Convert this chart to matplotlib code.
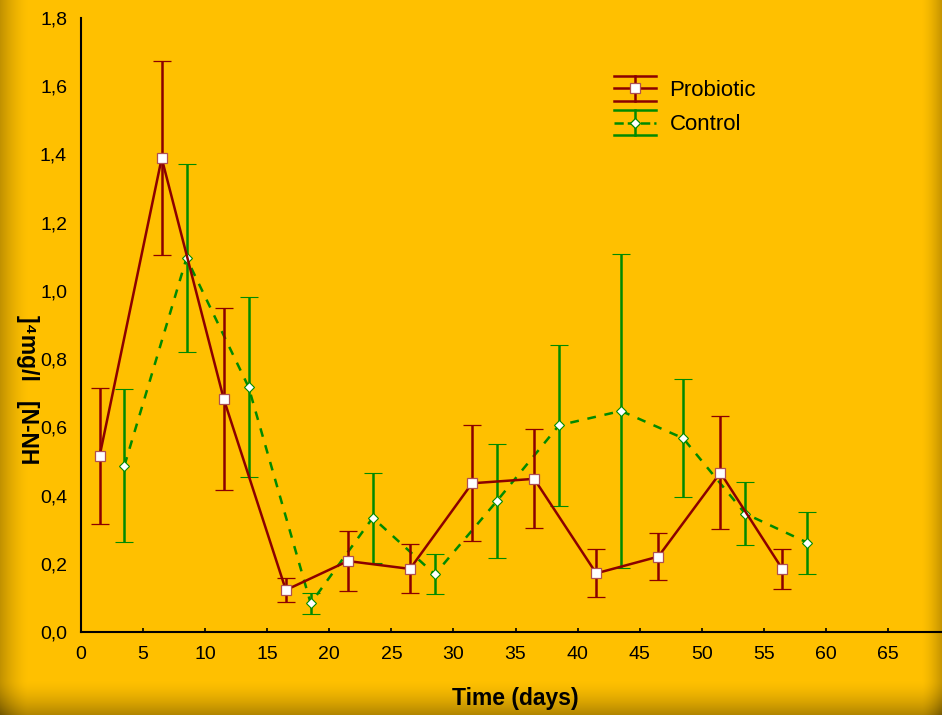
import numpy as np
import matplotlib
matplotlib.use("Agg")
import matplotlib.pyplot as plt
from matplotlib.lines import Line2D
from matplotlib.legend_handler import HandlerBase

# data
probiotic_days = [1.5, 6.5, 11.5, 16.5, 21.5, 26.5, 31.5, 36.5, 41.5, 46.5, 51.5, 56.5]
probiotic_mean = [0.516, 1.389, 0.683, 0.123, 0.208, 0.185, 0.436, 0.449, 0.172, 0.221, 0.467, 0.184]
probiotic_err = [0.200, 0.285, 0.267, 0.036, 0.089, 0.072, 0.170, 0.145, 0.070, 0.070, 0.165, 0.058]

control_days = [3.5, 8.5, 13.5, 18.5, 23.5, 28.5, 33.5, 38.5, 43.5, 48.5, 53.5, 58.5]
control_mean = [0.488, 1.096, 0.718, 0.084, 0.335, 0.169, 0.384, 0.606, 0.648, 0.568, 0.347, 0.262]
control_err = [0.225, 0.275, 0.265, 0.031, 0.132, 0.059, 0.166, 0.236, 0.460, 0.173, 0.092, 0.091]

x_ticks = [0, 5, 10, 15, 20, 25, 30, 35, 40, 45, 50, 55, 60, 65]
y_ticks = [0.0, 0.2, 0.4, 0.6, 0.8, 1.0, 1.2, 1.4, 1.6, 1.8]
y_tick_labels = ["0,0", "0,2", "0,4", "0,6", "0,8", "1,0", "1,2", "1,4", "1,6", "1,8"]

RED = "#8b0000"
GREEN = "#008a00"
GOLD = np.array([255, 192, 0]) / 255.0
LW = 1.8

plt.rcParams['font.family'] = ['Liberation Sans', 'DejaVu Sans']

W, H = 942, 715
fig = plt.figure(figsize=(W / 100, H / 100), dpi=100)
fig.patch.set_facecolor(GOLD)

# darker vignette along left, right and bottom edges
xx, yy = np.meshgrid(np.arange(W), np.arange(H))
shade = (1
         - 0.24 * np.clip(1 - xx / 28.0, 0, 1) ** 1.5
         - 0.22 * np.clip(1 - (W - 1 - xx) / 20.0, 0, 1) ** 1.5
         - 0.30 * np.clip(1 - (H - 1 - yy) / 34.0, 0, 1) ** 1.5)
bg_img = GOLD[None, None, :] * shade[:, :, None]
bg = fig.add_axes([0, 0, 1, 1], zorder=-10)
bg.imshow(bg_img, aspect="auto", interpolation="bilinear")
bg.axis("off")

ax = fig.add_axes([81 / W, 1 - 632 / H, (W - 81) / W, (632 - 18) / H])
ax.set_facecolor("none")

ax.errorbar(control_days, control_mean, yerr=control_err, color=GREEN, lw=LW,
            ls=(0, (3.5, 3.5)), elinewidth=LW, capsize=6.5, capthick=LW,
            marker="D", markersize=5, markerfacecolor="white", markeredgecolor=GREEN,
            markeredgewidth=0.8, zorder=3)
ax.errorbar(probiotic_days, probiotic_mean, yerr=probiotic_err, color=RED, lw=LW,
            elinewidth=LW, capsize=6.5, capthick=LW,
            marker="s", markersize=7, markerfacecolor="white", markeredgecolor="#b05050",
            markeredgewidth=0.9, zorder=4)

ax.set_xlim(0, 69.35)
ax.set_ylim(0, 1.8)
ax.set_xticks(x_ticks)
ax.set_yticks(y_ticks)
ax.set_yticklabels(y_tick_labels)
ax.tick_params(axis="x", direction="in", length=3, width=1.2, labelsize=14, pad=10)
ax.tick_params(axis="y", length=0, labelsize=14, pad=10)
for side in ["top", "right"]:
    ax.spines[side].set_visible(False)
for side in ["left", "bottom"]:
    ax.spines[side].set_linewidth(1.5)

fig.text(515 / W, 1 - 698 / H, "Time (days)", fontsize=16.5, fontweight="bold",
         ha="center", va="center")
fig.text(27 / W, 1 - 390 / H, "]\u2074mg/l   [N-NH", fontsize=16.5, fontweight="bold",
         rotation=270, ha="center", va="center")


class ErrHandler(HandlerBase):
    def create_artists(self, legend, orig, xd, yd, w, h, fontsize, trans):
        c = orig.get_color()
        yc = h / 2 - yd
        half = 9.0
        x0, x1 = -xd, -xd + w
        xm = (x0 + x1) / 2
        arts = [
            Line2D([x0, x1], [yc + half, yc + half], color=c, lw=LW),
            Line2D([x0, x1], [yc - half, yc - half], color=c, lw=LW),
            Line2D([xm, xm], [yc - half, yc + half], color=c, lw=LW),
            Line2D([x0, x1], [yc, yc], color=c, lw=LW, ls=orig.get_linestyle()),
            Line2D([xm], [yc], marker=orig.get_marker(), markersize=orig.get_markersize(),
                   markerfacecolor="white", markeredgecolor=orig.get_markeredgecolor(),
                   markeredgewidth=0.9, ls="none"),
        ]
        for a in arts:
            a.set_transform(trans)
        return arts


h_pro = Line2D([], [], color=RED, ls="-", marker="s", markersize=7, markeredgecolor="#b05050")
h_con = Line2D([], [], color=GREEN, ls=(0, (3.5, 3.5)), marker="D", markersize=5,
               markeredgecolor=GREEN)
fig.legend([h_pro, h_con], ["Probiotic", "Control"], loc="upper left",
           bbox_to_anchor=(614 / W, 1 - 80 / H), frameon=False, fontsize=16,
           handlelength=1.9, handletextpad=0.6, labelspacing=0.6, borderpad=0,
           borderaxespad=0, handler_map={Line2D: ErrHandler()})

fig.savefig("out.png", dpi=100, facecolor=fig.get_facecolor())
